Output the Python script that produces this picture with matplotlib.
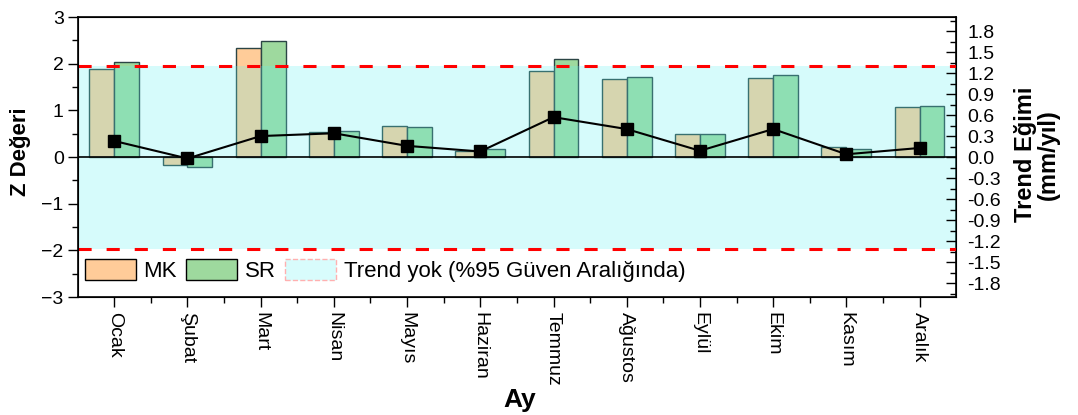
import matplotlib
matplotlib.use("Agg")
import matplotlib.pyplot as plt
from matplotlib.patches import Patch
from matplotlib.ticker import MultipleLocator, FormatStrFormatter
import numpy as np

plt.rcParams['font.family'] = ['Liberation Sans', 'DejaVu Sans']

months = ['Ocak', 'Şubat', 'Mart', 'Nisan', 'Mayıs', 'Haziran',
          'Temmuz', 'Ağustos', 'Eylül', 'Ekim', 'Kasım', 'Aralık']
mk_z = [1.88, -0.16, 2.33, 0.53, 0.67, 0.14, 1.85, 1.67, 0.50, 1.70, 0.22, 1.08]
sr_z = [2.03, -0.22, 2.48, 0.55, 0.65, 0.17, 2.11, 1.72, 0.50, 1.75, 0.18, 1.10]
slope = [0.23, -0.02, 0.30, 0.34, 0.16, 0.08, 0.57, 0.40, 0.09, 0.40, 0.04, 0.13]
z_crit = 1.96

x = np.arange(len(months))
w = 0.34

fig = plt.figure(figsize=(10.78, 4.15), dpi=100)
ax = fig.add_axes([0.072, 0.284, 0.815, 0.675])

ax.bar(x - w / 2, mk_z, w, color='#FFCC99', edgecolor='#2B4545', linewidth=1.0, zorder=2)
ax.bar(x + w / 2, sr_z, w, color='#9ED99E', edgecolor='#2B4545', linewidth=1.0, zorder=2)
ax.axhspan(-z_crit, z_crit, color='#5FF2F2', alpha=0.25, linewidth=0, zorder=3)
ax.axhline(z_crit, color='red', ls=(0, (4.3, 4.9)), lw=2.2, zorder=4)
ax.axhline(-z_crit, color='red', ls=(0, (4.3, 4.9)), lw=2.2, zorder=4)
ax.axhline(0, color='black', lw=1.2, zorder=4)

ax.set_xlim(-0.5, 11.5)
ax.set_ylim(-3, 3)
ax.yaxis.set_major_locator(MultipleLocator(1))
ax.yaxis.set_minor_locator(MultipleLocator(0.5))
ax.set_xticks(x)
ax.set_xticklabels(months, rotation=270, fontsize=14)
ax.set_xticks(x[:-1] + 0.5, minor=True)
ax.tick_params(axis='y', which='major', direction='out', length=7, width=1, labelsize=14, pad=3)
ax.tick_params(axis='y', which='minor', direction='out', length=4, width=1)
ax.tick_params(axis='x', which='major', direction='out', length=7, width=1, pad=4)
ax.tick_params(axis='x', which='minor', direction='out', length=4, width=1)
for s in ax.spines.values():
    s.set_linewidth(1.2)
ax.set_ylabel('Z Değeri', fontsize=16, fontweight='bold')
ax.yaxis.set_label_coords(-0.053, 0.52)
fig.text(0.482, 0.008, 'Ay', ha='center', va='bottom', fontsize=19, fontweight='bold',
         family=['Liberation Sans Narrow', 'Liberation Sans'])

ax2 = ax.twinx()
ax2.plot(x, slope, color='black', lw=1.5, marker='s', markersize=8, zorder=5)
ax2.set_ylim(-2.0, 2.0)
ax2.yaxis.set_major_locator(MultipleLocator(0.3))
ax2.yaxis.set_minor_locator(MultipleLocator(0.15))
ax2.yaxis.set_major_formatter(FormatStrFormatter('%.1f'))
ax2.tick_params(axis='y', which='major', direction='in', length=7, width=1, labelsize=14, pad=8)
ax2.tick_params(axis='y', which='minor', direction='in', length=4, width=1)
ax2.set_ylabel('Trend Eğimi\n(mm/yıl)', fontsize=17, fontweight='bold', linespacing=1.0)
ax2.yaxis.set_label_coords(1.066, 0.51)

handles = [
    Patch(facecolor='#FFCC99', edgecolor='black', label='MK'),
    Patch(facecolor='#9ED99E', edgecolor='black', label='SR'),
    Patch(facecolor='#D8FCFC', edgecolor='#FFB0B0', linestyle='--', label='Trend yok (%95 Güven Aralığında)'),
]
ax.legend(handles=handles, loc='center left', ncol=3, frameon=False, fontsize=16,
          handlelength=2.3, handleheight=1.1, columnspacing=0.4, handletextpad=0.35,
          borderpad=0, borderaxespad=0, bbox_to_anchor=(0.008, 0.096))

fig.savefig('out.png', dpi=100)
